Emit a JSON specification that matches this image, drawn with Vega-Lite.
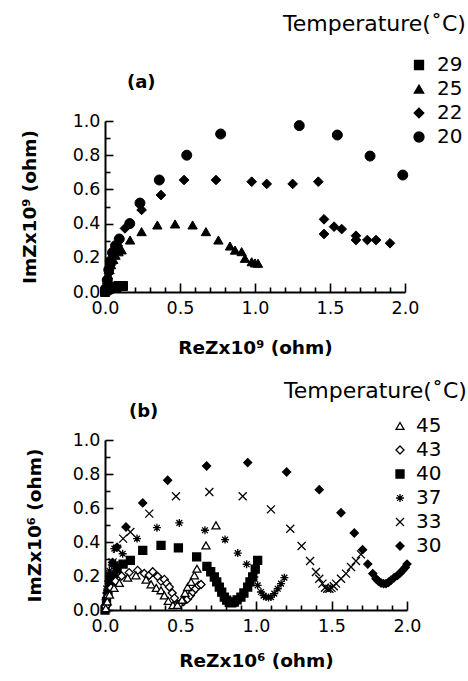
{
  "$schema": "https://vega.github.io/schema/vega-lite/v6.json",
  "background": "white",
  "padding": {"left": 20, "top": 14, "right": 0, "bottom": 0},
  "spacing": 24,
  "config": {
    "view": {"stroke": null},
    "font": "DejaVu Sans",
    "axis": {
      "grid": true,
      "gridColor": "black",
      "gridOpacity": 1,
      "gridWidth": 1.6,
      "ticks": false,
      "domainColor": "black",
      "domainWidth": 2,
      "labelFont": "DejaVu Sans",
      "labelFontSize": 17.5,
      "labelColor": "black",
      "labelFlush": false,
      "labelOverlap": false,
      "titleFont": "DejaVu Sans",
      "titleFontSize": 18.5,
      "titleFontWeight": "bold",
      "titleColor": "black"
    },
    "legend": {
      "orient": "none",
      "padding": 0,
      "titleFont": "DejaVu Sans",
      "titleFontWeight": "normal",
      "titleFontSize": 22,
      "titleColor": "black",
      "titleLimit": 400,
      "labelFont": "DejaVu Sans",
      "labelFontSize": 20,
      "labelColor": "black",
      "labelLimit": 100,
      "rowPadding": 4,
      "symbolStrokeColor": "black",
      "symbolStrokeWidth": 1.3
    },
    "title": {"font": "DejaVu Sans", "fontSize": 18, "fontWeight": "bold", "color": "black"}
  },
  "resolve": {
    "scale": {"x": "independent", "y": "independent", "shape": "independent", "fill": "independent", "size": "independent", "stroke": "independent"},
    "legend": {"shape": "independent", "fill": "independent", "size": "independent", "stroke": "independent"}
  },
  "datasets": {
    "a": [
      {"T": "29", "x": 0.0, "y": 0.0}, {"T": "29", "x": 0.01, "y": 0.01}, {"T": "29", "x": 0.02, "y": 0.015}, {"T": "29", "x": 0.03, "y": 0.02}, {"T": "29", "x": 0.045, "y": 0.025}, {"T": "29", "x": 0.06, "y": 0.03}, {"T": "29", "x": 0.075, "y": 0.03}, {"T": "29", "x": 0.09, "y": 0.035}, {"T": "29", "x": 0.105, "y": 0.035}, {"T": "29", "x": 0.12, "y": 0.035},
      {"T": "25", "x": 0.005, "y": 0.01}, {"T": "25", "x": 0.01, "y": 0.04}, {"T": "25", "x": 0.015, "y": 0.07}, {"T": "25", "x": 0.02, "y": 0.1}, {"T": "25", "x": 0.03, "y": 0.13}, {"T": "25", "x": 0.04, "y": 0.16}, {"T": "25", "x": 0.055, "y": 0.19}, {"T": "25", "x": 0.07, "y": 0.215}, {"T": "25", "x": 0.09, "y": 0.235}, {"T": "25", "x": 0.111, "y": 0.246}, {"T": "25", "x": 0.167, "y": 0.304}, {"T": "25", "x": 0.244, "y": 0.353}, {"T": "25", "x": 0.349, "y": 0.392}, {"T": "25", "x": 0.467, "y": 0.398}, {"T": "25", "x": 0.584, "y": 0.392}, {"T": "25", "x": 0.673, "y": 0.353}, {"T": "25", "x": 0.756, "y": 0.304}, {"T": "25", "x": 0.833, "y": 0.269}, {"T": "25", "x": 0.867, "y": 0.245}, {"T": "25", "x": 0.911, "y": 0.236}, {"T": "25", "x": 0.933, "y": 0.197}, {"T": "25", "x": 0.978, "y": 0.177}, {"T": "25", "x": 1.0, "y": 0.17}, {"T": "25", "x": 1.02, "y": 0.168},
      {"T": "22", "x": 0.005, "y": 0.02}, {"T": "22", "x": 0.015, "y": 0.06}, {"T": "22", "x": 0.025, "y": 0.11}, {"T": "22", "x": 0.04, "y": 0.16}, {"T": "22", "x": 0.06, "y": 0.21}, {"T": "22", "x": 0.085, "y": 0.27}, {"T": "22", "x": 0.133, "y": 0.372}, {"T": "22", "x": 0.244, "y": 0.48}, {"T": "22", "x": 0.373, "y": 0.567}, {"T": "22", "x": 0.527, "y": 0.655}, {"T": "22", "x": 0.74, "y": 0.655}, {"T": "22", "x": 0.978, "y": 0.645}, {"T": "22", "x": 1.078, "y": 0.632}, {"T": "22", "x": 1.251, "y": 0.632}, {"T": "22", "x": 1.422, "y": 0.645}, {"T": "22", "x": 1.46, "y": 0.425}, {"T": "22", "x": 1.46, "y": 0.339}, {"T": "22", "x": 1.527, "y": 0.382}, {"T": "22", "x": 1.578, "y": 0.368}, {"T": "22", "x": 1.673, "y": 0.329}, {"T": "22", "x": 1.673, "y": 0.304}, {"T": "22", "x": 1.749, "y": 0.304}, {"T": "22", "x": 1.807, "y": 0.304}, {"T": "22", "x": 1.9, "y": 0.285},
      {"T": "20", "x": 0.005, "y": 0.02}, {"T": "20", "x": 0.015, "y": 0.07}, {"T": "20", "x": 0.025, "y": 0.13}, {"T": "20", "x": 0.035, "y": 0.18}, {"T": "20", "x": 0.05, "y": 0.23}, {"T": "20", "x": 0.07, "y": 0.27}, {"T": "20", "x": 0.095, "y": 0.31}, {"T": "20", "x": 0.165, "y": 0.4}, {"T": "20", "x": 0.233, "y": 0.52}, {"T": "20", "x": 0.362, "y": 0.655}, {"T": "20", "x": 0.545, "y": 0.8}, {"T": "20", "x": 0.771, "y": 0.924}, {"T": "20", "x": 1.295, "y": 0.973}, {"T": "20", "x": 1.549, "y": 0.918}, {"T": "20", "x": 1.767, "y": 0.795}, {"T": "20", "x": 1.985, "y": 0.684}
    ],
    "b": [
      {"T": "30", "x": 0.005, "y": 0.03}, {"T": "30", "x": 0.015, "y": 0.1}, {"T": "30", "x": 0.03, "y": 0.2}, {"T": "30", "x": 0.05, "y": 0.28}, {"T": "30", "x": 0.08, "y": 0.37}, {"T": "30", "x": 0.139, "y": 0.488}, {"T": "30", "x": 0.25, "y": 0.63}, {"T": "30", "x": 0.415, "y": 0.763}, {"T": "30", "x": 0.673, "y": 0.847}, {"T": "30", "x": 0.945, "y": 0.867}, {"T": "30", "x": 1.203, "y": 0.812}, {"T": "30", "x": 1.419, "y": 0.708}, {"T": "30", "x": 1.563, "y": 0.572}, {"T": "30", "x": 1.651, "y": 0.453}, {"T": "30", "x": 1.706, "y": 0.355}, {"T": "30", "x": 1.74, "y": 0.27}, {"T": "30", "x": 1.773, "y": 0.214}, {"T": "30", "x": 1.795, "y": 0.184}, {"T": "30", "x": 1.81, "y": 0.17}, {"T": "30", "x": 1.828, "y": 0.159}, {"T": "30", "x": 1.845, "y": 0.155}, {"T": "30", "x": 1.861, "y": 0.155}, {"T": "30", "x": 1.878, "y": 0.163}, {"T": "30", "x": 1.894, "y": 0.175}, {"T": "30", "x": 1.915, "y": 0.19}, {"T": "30", "x": 1.938, "y": 0.204}, {"T": "30", "x": 1.955, "y": 0.218}, {"T": "30", "x": 1.971, "y": 0.233}, {"T": "30", "x": 1.988, "y": 0.25}, {"T": "30", "x": 2.0, "y": 0.27},
      {"T": "33", "x": 0.005, "y": 0.04}, {"T": "33", "x": 0.015, "y": 0.12}, {"T": "33", "x": 0.03, "y": 0.2}, {"T": "33", "x": 0.05, "y": 0.28}, {"T": "33", "x": 0.08, "y": 0.36}, {"T": "33", "x": 0.12, "y": 0.42}, {"T": "33", "x": 0.168, "y": 0.459}, {"T": "33", "x": 0.293, "y": 0.567}, {"T": "33", "x": 0.47, "y": 0.669}, {"T": "33", "x": 0.691, "y": 0.694}, {"T": "33", "x": 0.912, "y": 0.669}, {"T": "33", "x": 1.099, "y": 0.592}, {"T": "33", "x": 1.227, "y": 0.478}, {"T": "33", "x": 1.302, "y": 0.376}, {"T": "33", "x": 1.358, "y": 0.288}, {"T": "33", "x": 1.397, "y": 0.224}, {"T": "33", "x": 1.419, "y": 0.184}, {"T": "33", "x": 1.44, "y": 0.155}, {"T": "33", "x": 1.457, "y": 0.131}, {"T": "33", "x": 1.472, "y": 0.125}, {"T": "33", "x": 1.486, "y": 0.125}, {"T": "33", "x": 1.5, "y": 0.13}, {"T": "33", "x": 1.515, "y": 0.14}, {"T": "33", "x": 1.53, "y": 0.155}, {"T": "33", "x": 1.563, "y": 0.184}, {"T": "33", "x": 1.596, "y": 0.214}, {"T": "33", "x": 1.629, "y": 0.253}, {"T": "33", "x": 1.662, "y": 0.288}, {"T": "33", "x": 1.695, "y": 0.327},
      {"T": "37", "x": 0.005, "y": 0.03}, {"T": "37", "x": 0.01, "y": 0.1}, {"T": "37", "x": 0.02, "y": 0.17}, {"T": "37", "x": 0.03, "y": 0.23}, {"T": "37", "x": 0.045, "y": 0.265}, {"T": "37", "x": 0.07, "y": 0.27}, {"T": "37", "x": 0.095, "y": 0.265}, {"T": "37", "x": 0.062, "y": 0.361}, {"T": "37", "x": 0.117, "y": 0.331}, {"T": "37", "x": 0.212, "y": 0.42}, {"T": "37", "x": 0.344, "y": 0.484}, {"T": "37", "x": 0.492, "y": 0.512}, {"T": "37", "x": 0.662, "y": 0.469}, {"T": "37", "x": 0.795, "y": 0.414}, {"T": "37", "x": 0.879, "y": 0.335}, {"T": "37", "x": 0.938, "y": 0.269}, {"T": "37", "x": 0.989, "y": 0.194}, {"T": "37", "x": 1.011, "y": 0.145}, {"T": "37", "x": 1.033, "y": 0.106}, {"T": "37", "x": 1.05, "y": 0.085}, {"T": "37", "x": 1.066, "y": 0.076}, {"T": "37", "x": 1.083, "y": 0.074}, {"T": "37", "x": 1.099, "y": 0.076}, {"T": "37", "x": 1.121, "y": 0.096}, {"T": "37", "x": 1.144, "y": 0.125}, {"T": "37", "x": 1.166, "y": 0.155}, {"T": "37", "x": 1.188, "y": 0.19},
      {"T": "40", "x": 0.0, "y": 0.0}, {"T": "40", "x": 0.01, "y": 0.05}, {"T": "40", "x": 0.02, "y": 0.1}, {"T": "40", "x": 0.035, "y": 0.15}, {"T": "40", "x": 0.055, "y": 0.2}, {"T": "40", "x": 0.08, "y": 0.24}, {"T": "40", "x": 0.12, "y": 0.27}, {"T": "40", "x": 0.168, "y": 0.292}, {"T": "40", "x": 0.25, "y": 0.351}, {"T": "40", "x": 0.371, "y": 0.38}, {"T": "40", "x": 0.486, "y": 0.365}, {"T": "40", "x": 0.607, "y": 0.312}, {"T": "40", "x": 0.675, "y": 0.257}, {"T": "40", "x": 0.7, "y": 0.225}, {"T": "40", "x": 0.724, "y": 0.194}, {"T": "40", "x": 0.74, "y": 0.165}, {"T": "40", "x": 0.757, "y": 0.135}, {"T": "40", "x": 0.773, "y": 0.105}, {"T": "40", "x": 0.79, "y": 0.076}, {"T": "40", "x": 0.806, "y": 0.058}, {"T": "40", "x": 0.823, "y": 0.045}, {"T": "40", "x": 0.84, "y": 0.042}, {"T": "40", "x": 0.856, "y": 0.047}, {"T": "40", "x": 0.875, "y": 0.06}, {"T": "40", "x": 0.9, "y": 0.076}, {"T": "40", "x": 0.92, "y": 0.1}, {"T": "40", "x": 0.945, "y": 0.135}, {"T": "40", "x": 0.96, "y": 0.165}, {"T": "40", "x": 0.978, "y": 0.194}, {"T": "40", "x": 0.995, "y": 0.24}, {"T": "40", "x": 1.011, "y": 0.292},
      {"T": "43", "x": 0.005, "y": 0.02}, {"T": "43", "x": 0.02, "y": 0.08}, {"T": "43", "x": 0.04, "y": 0.13}, {"T": "43", "x": 0.07, "y": 0.17}, {"T": "43", "x": 0.11, "y": 0.2}, {"T": "43", "x": 0.16, "y": 0.22}, {"T": "43", "x": 0.216, "y": 0.233}, {"T": "43", "x": 0.26, "y": 0.215}, {"T": "43", "x": 0.293, "y": 0.204}, {"T": "43", "x": 0.316, "y": 0.225}, {"T": "43", "x": 0.349, "y": 0.197}, {"T": "43", "x": 0.371, "y": 0.17}, {"T": "43", "x": 0.393, "y": 0.18}, {"T": "43", "x": 0.41, "y": 0.155}, {"T": "43", "x": 0.426, "y": 0.135}, {"T": "43", "x": 0.445, "y": 0.1}, {"T": "43", "x": 0.46, "y": 0.07}, {"T": "43", "x": 0.48, "y": 0.035}, {"T": "43", "x": 0.5, "y": 0.04}, {"T": "43", "x": 0.52, "y": 0.05}, {"T": "43", "x": 0.547, "y": 0.065}, {"T": "43", "x": 0.565, "y": 0.085}, {"T": "43", "x": 0.581, "y": 0.106}, {"T": "43", "x": 0.6, "y": 0.125}, {"T": "43", "x": 0.62, "y": 0.145}, {"T": "43", "x": 0.636, "y": 0.15},
      {"T": "45", "x": 0.005, "y": 0.01}, {"T": "45", "x": 0.015, "y": 0.05}, {"T": "45", "x": 0.03, "y": 0.09}, {"T": "45", "x": 0.06, "y": 0.13}, {"T": "45", "x": 0.095, "y": 0.159}, {"T": "45", "x": 0.15, "y": 0.19}, {"T": "45", "x": 0.205, "y": 0.204}, {"T": "45", "x": 0.272, "y": 0.178}, {"T": "45", "x": 0.305, "y": 0.151}, {"T": "45", "x": 0.34, "y": 0.13}, {"T": "45", "x": 0.371, "y": 0.116}, {"T": "45", "x": 0.393, "y": 0.086}, {"T": "45", "x": 0.419, "y": 0.053}, {"T": "45", "x": 0.45, "y": 0.028}, {"T": "45", "x": 0.48, "y": 0.03}, {"T": "45", "x": 0.51, "y": 0.06}, {"T": "45", "x": 0.53, "y": 0.1}, {"T": "45", "x": 0.547, "y": 0.135}, {"T": "45", "x": 0.57, "y": 0.165}, {"T": "45", "x": 0.592, "y": 0.204}, {"T": "45", "x": 0.609, "y": 0.243}, {"T": "45", "x": 0.669, "y": 0.38}, {"T": "45", "x": 0.735, "y": 0.498}
    ]
  },
  "vconcat": [
    {
      "width": 300,
      "height": 171,
      "data": {"name": "a"},
      "title": {"text": "(a)", "anchor": "start", "frame": "group", "dx": 22, "offset": -78},
      "mark": {"type": "point", "filled": true, "strokeWidth": 1, "opacity": 1, "clip": false},
      "encoding": {
        "x": {
          "field": "x", "type": "quantitative",
          "scale": {"domain": [0, 2], "nice": false, "zero": false},
          "axis": {
            "title": "ReZx10⁹ (ohm)",
            "values": [0, 0.1, 0.2, 0.3, 0.4, 0.5, 0.6, 0.7, 0.8, 0.9, 1.0, 1.1, 1.2, 1.3, 1.4, 1.5, 1.6, 1.7, 1.8, 1.9, 2.0],
            "labelExpr": "abs(datum.value*2 - round(datum.value*2)) < 0.001 ? format(datum.value, '.1f') : ''",
            "gridDash": {"condition": {"test": "abs(datum.value*2 - round(datum.value*2)) < 0.001", "value": [0, 162, 9, 1000]}, "value": [0, 166, 5, 1000]},
            "labelPadding": 7,
            "titlePadding": 22
          }
        },
        "y": {
          "field": "y", "type": "quantitative",
          "scale": {"domain": [0, 1], "nice": false, "zero": false},
          "axis": {
            "title": "ImZx10⁹ (ohm)",
            "values": [0, 0.1, 0.2, 0.3, 0.4, 0.5, 0.6, 0.7, 0.8, 0.9, 1.0],
            "labelExpr": "abs(datum.value*5 - round(datum.value*5)) < 0.001 ? format(datum.value, '.1f') : ''",
            "gridDash": {"condition": {"test": "abs(datum.value*5 - round(datum.value*5)) < 0.001", "value": [8, 1000]}, "value": [5, 1000]},
            "labelPadding": 5,
            "titlePadding": 33
          }
        },
        "shape": {
          "field": "T", "type": "nominal",
          "scale": {"domain": ["29", "25", "22", "20"], "range": ["square", "triangle-up", "diamond", "circle"]},
          "legend": {"title": "Temperature(˚C)", "legendX": 178, "legendY": -107, "titlePadding": 19, "symbolOffset": 126, "labelOffset": 8}
        },
        "fill": {
          "field": "T", "type": "nominal",
          "scale": {"domain": ["29", "25", "22", "20"], "range": ["black", "black", "black", "black"]},
          "legend": {"title": "Temperature(˚C)", "legendX": 178, "legendY": -107, "titlePadding": 19, "symbolOffset": 126, "labelOffset": 8}
        },
        "stroke": {
          "field": "T", "type": "nominal",
          "scale": {"domain": ["29", "25", "22", "20"], "range": ["black", "black", "black", "black"]},
          "legend": {"title": "Temperature(˚C)", "legendX": 178, "legendY": -107, "titlePadding": 19, "symbolOffset": 126, "labelOffset": 8}
        },
        "size": {
          "field": "T", "type": "nominal",
          "scale": {"domain": ["29", "25", "22", "20"], "range": [81, 100, 81, 81]},
          "legend": {"title": "Temperature(˚C)", "legendX": 178, "legendY": -107, "titlePadding": 19, "symbolOffset": 126, "labelOffset": 8}
        }
      }
    },
    {
      "width": 302,
      "height": 170,
      "data": {"name": "b"},
      "title": {"text": "(b)", "anchor": "start", "frame": "group", "dx": 24, "offset": -40},
      "mark": {"type": "point", "filled": true, "strokeWidth": 1.3, "opacity": 1, "clip": false},
      "encoding": {
        "x": {
          "field": "x", "type": "quantitative",
          "scale": {"domain": [0, 2], "nice": false, "zero": false},
          "axis": {
            "title": "ReZx10⁶ (ohm)",
            "values": [0, 0.1, 0.2, 0.3, 0.4, 0.5, 0.6, 0.7, 0.8, 0.9, 1.0, 1.1, 1.2, 1.3, 1.4, 1.5, 1.6, 1.7, 1.8, 1.9, 2.0],
            "labelExpr": "abs(datum.value*2 - round(datum.value*2)) < 0.001 ? format(datum.value, '.1f') : ''",
            "gridDash": {"condition": {"test": "abs(datum.value*2 - round(datum.value*2)) < 0.001", "value": [0, 161, 9, 1000]}, "value": [0, 165, 5, 1000]},
            "labelPadding": 7,
            "titlePadding": 17
          }
        },
        "y": {
          "field": "y", "type": "quantitative",
          "scale": {"domain": [0, 1], "nice": false, "zero": false},
          "axis": {
            "title": "ImZx10⁶ (ohm)",
            "values": [0, 0.1, 0.2, 0.3, 0.4, 0.5, 0.6, 0.7, 0.8, 0.9, 1.0],
            "labelExpr": "abs(datum.value*5 - round(datum.value*5)) < 0.001 ? format(datum.value, '.1f') : ''",
            "gridDash": {"condition": {"test": "abs(datum.value*5 - round(datum.value*5)) < 0.001", "value": [8, 1000]}, "value": [5, 1000]},
            "labelPadding": 5,
            "titlePadding": 28
          }
        },
        "shape": {
          "field": "T", "type": "nominal",
          "scale": {"domain": ["45", "43", "40", "37", "33", "30"], "range": ["triangle-up", "diamond", "square", "M-1,0L1,0M0,-1L0,1M-0.72,-0.72L0.72,0.72M-0.72,0.72L0.72,-0.72", "M-1,-1L1,1M-1,1L1,-1", "diamond"]},
          "legend": {"title": "Temperature(˚C)", "legendX": 179, "legendY": -59, "titlePadding": 13, "symbolOffset": 106, "labelOffset": 6}
        },
        "fill": {
          "field": "T", "type": "nominal",
          "scale": {"domain": ["45", "43", "40", "37", "33", "30"], "range": ["white", "white", "black", "white", "white", "black"]},
          "legend": {"title": "Temperature(˚C)", "legendX": 179, "legendY": -59, "titlePadding": 13, "symbolOffset": 106, "labelOffset": 6}
        },
        "stroke": {
          "field": "T", "type": "nominal",
          "scale": {"domain": ["45", "43", "40", "37", "33", "30"], "range": ["black", "black", "black", "black", "black", "black"]},
          "legend": {"title": "Temperature(˚C)", "legendX": 179, "legendY": -59, "titlePadding": 13, "symbolOffset": 106, "labelOffset": 6}
        },
        "size": {
          "field": "T", "type": "nominal",
          "scale": {"domain": ["45", "43", "40", "37", "33", "30"], "range": [64, 64, 100, 64, 64, 64]},
          "legend": {"title": "Temperature(˚C)", "legendX": 179, "legendY": -59, "titlePadding": 13, "symbolOffset": 106, "labelOffset": 6}
        }
      }
    }
  ]
}
